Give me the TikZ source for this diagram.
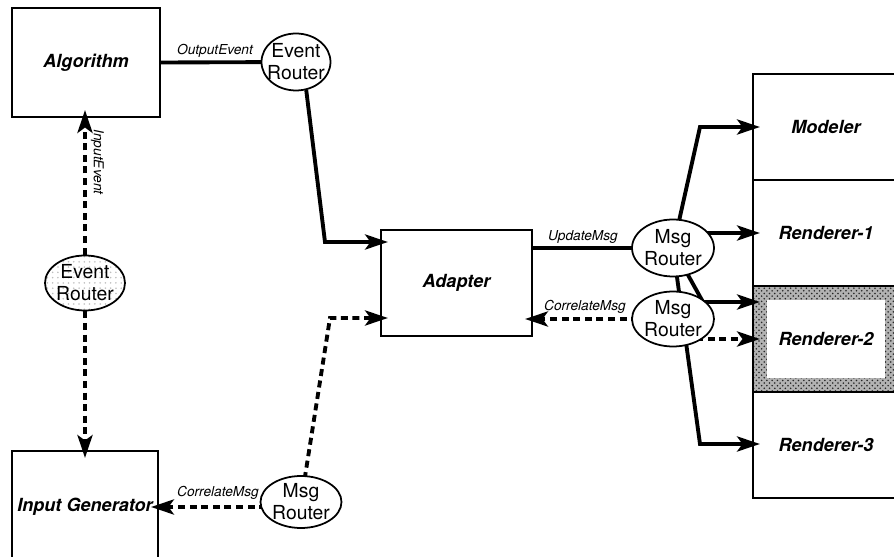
\documentclass[tikz,border=0pt]{standalone}
\usepackage{fontspec}
\setmainfont{TeX Gyre Heros}
\usetikzlibrary{shapes.geometric, arrows.meta, calc, patterns}
\pgfdeclarelayer{fg}
\pgfsetlayers{main,fg}
\newcommand\bxfont{\bfseries\itshape\fontsize{10.3}{12}\selectfont}
\begin{document}
\begin{tikzpicture}[x=0.02cm, y=-0.02cm,
  box/.style={draw, line width=1pt, rectangle, inner sep=0pt, font=\bxfont},
  wbox/.style={box, fill=white},
  router/.style={ellipse, draw, line width=1pt, inner sep=-3pt, align=center,
    font=\fontsize{11}{12.5}\selectfont},
  wrouter/.style={router, fill=white},
  conn/.style={line width=2.2pt},
  dconn/.style={line width=2.2pt, dash pattern=on 4pt off 2.6pt},
  arr/.style={-{Stealth[length=13pt,width=8.5pt,inset=3pt]}, shorten >=-4.5pt},
  msglabel/.style={font=\itshape\fontsize{7.8}{9}\selectfont, inner sep=0pt}]
\clip (0,0) rectangle (894,557);
\fill[white] (0,0) rectangle (894,557);

% boxes
\node[wbox, minimum width=2.96cm, minimum height=2.18cm] (alg) at (86,62.5) {Algorithm};
\node[wbox, minimum width=2.92cm, minimum height=2.24cm] (ig) at (85,507) {Input Generator};
\node[wbox, minimum width=3.02cm, minimum height=2.12cm] (adp) at (456.5,283) {Adapter};
\node[wbox, minimum width=2.92cm, minimum height=2.12cm] (mod) at (826,127) {Modeler};
\node[wbox, minimum width=2.92cm, minimum height=2.12cm] (r1) at (826,233) {Renderer-1};
\node[box, minimum width=2.92cm, minimum height=2.12cm,
  preaction={fill=black!30}, pattern=crosshatch dots, pattern color=black!85,
  path picture={\fill[white] ($(path picture bounding box.north west)+(14,14)$) rectangle ($(path picture bounding box.south east)+(-14,-14)$);}] (r2) at (826,339) {Renderer-2};
\node[wbox, minimum width=2.92cm, minimum height=2.12cm] (r3) at (826,445) {Renderer-3};

% routers
\begin{pgfonlayer}{fg}
\node[wrouter, minimum width=1.38cm, minimum height=1.14cm] (er1) at (296,62) {Event\\Router};
\node[router, pattern=dots, pattern color=black!25, minimum width=1.6cm, minimum height=1.1cm] (er2) at (85,283) {Event\\Router};
\node[wrouter, minimum width=1.64cm, minimum height=1.14cm] (mr1) at (673,248) {Msg\\Router};
\node[wrouter, minimum width=1.64cm, minimum height=1.1cm] (mr2) at (673,319) {Msg\\Router};
\node[wrouter, minimum width=1.62cm, minimum height=1.04cm] (mr3) at (301,502) {Msg\\Router};
\end{pgfonlayer}

% connectors
\coordinate (k1) at (325,242);
\coordinate (k2) at (330,318);
\coordinate (k3) at (700,127);
\coordinate (k4) at (703,302);
\coordinate (k5) at (700,444);

\draw[conn] (alg.east) -- (er1.center);
\draw[conn, arr] (er1.-70) -- (k1) -- (k1 -| adp.west);
\draw[dconn, arr] (er2.north) -- (er2.north |- alg.south);
\draw[dconn, arr] (er2.south) -- (er2.south |- ig.north);
\draw[dconn, arr] (mr3.center |- ig.east) -- (ig.east);
\draw[dconn, arr] (mr3.center) -- (k2) -- (k2 -| adp.west);
\draw[conn] (mr1.center -| adp.east) -- (mr1.center);
\draw[dconn, arr] (mr2.center) -- (mr2.center -| adp.east);
\draw[conn, arr] (mr1.center) -- (k3) -- (k3 -| mod.west);
\draw[conn, arr] (r1.west -| mr1.center) -- (r1.west);
\draw[conn, arr] (mr1.center) -- (k4) -- (k4 -| r2.west);
\draw[conn, arr] (mr1.center) -- (k5) -- (k5 -| r3.west);
\draw[dconn, arr] (r2.west -| mr2.center) -- (r2.west);

% labels
\node[msglabel] (lo) at (215,51) {OutputEvent};
\node[msglabel, rotate=-90] (li) at (97.5,162) {InputEvent};
\node[msglabel] (lu) at (583,237) {UpdateMsg};
\node[msglabel] (lc1) at (585,307) {CorrelateMsg};
\node[msglabel] (lc2) at (218,493) {CorrelateMsg};
\end{tikzpicture}
\end{document}
